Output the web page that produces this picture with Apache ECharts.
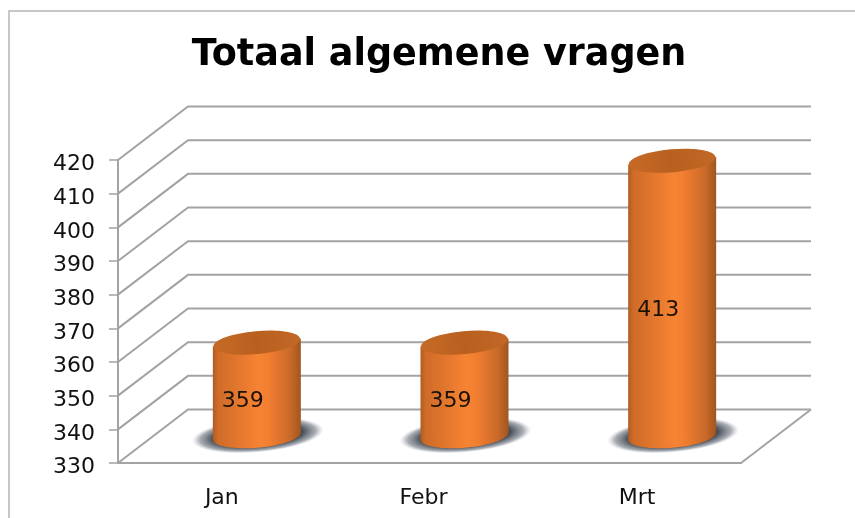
<!DOCTYPE html>
<html><head><meta charset="utf-8">
<style>html,body{margin:0;padding:0;background:#fff}#c{width:855px;height:518px}</style>
<script src="https://cdn.jsdelivr.net/npm/echarts@6/dist/echarts.min.js"></script>
</head><body><div id="c"></div>
<script>
const titleText = 'Totaal algemene vragen';
const categories = ['Jan', 'Febr', 'Mrt'];
const values = [359, 359, 413];
const tickValues = [330, 340, 350, 360, 370, 380, 390, 400, 410, 420];

const FONT = '"DejaVu Sans", sans-serif';
const GRIDC = '#a3a3a3';
const DX = 70, DY = 53.5;
const TILT = 5 * Math.PI / 180;
const RX = 44, RY = 11.5, SLOPE = 3.8;

const bodyFill = () => new echarts.graphic.LinearGradient(0, 0, 1, 0, [
  {offset: 0, color: '#b05c20'}, {offset: 0.06, color: '#cf6c29'}, {offset: 0.25, color: '#df752c'},
  {offset: 0.52, color: '#f78334'}, {offset: 0.62, color: '#f37f31'},
  {offset: 0.88, color: '#c96929'}, {offset: 1, color: '#a0561f'}]);
const topFill = () => new echarts.graphic.LinearGradient(0, 0, 1, 0, [
  {offset: 0, color: '#c66a26'}, {offset: 0.5, color: '#b9601f'}, {offset: 1, color: '#c26826'}]);
const shadowFill = () => new echarts.graphic.RadialGradient(0.5, 0.5, 0.5, [
  {offset: 0, color: 'rgba(72,78,86,1)'}, {offset: 0.68, color: 'rgba(72,78,86,1)'},
  {offset: 0.88, color: 'rgba(110,116,128,0.6)'}, {offset: 1, color: 'rgba(160,165,180,0)'}]);

function renderGrid(params, api) {
  const v = api.value(0);
  const a = api.coord([0, v]);
  const s = params.coordSys;
  const y = a[1];
  const kids = [{type: 'polyline', shape: {points: [[s.x, y], [s.x + DX, y - DY], [s.x + s.width + DX, y - DY]]},
    style: {fill: 'none', stroke: GRIDC, lineWidth: 2}}];
  if (v === tickValues[0]) kids.push({type: 'line',
    shape: {x1: s.x + s.width, y1: y, x2: s.x + s.width + DX, y2: y - DY},
    style: {stroke: GRIDC, lineWidth: 2}});
  return {type: 'group', children: kids};
}

function renderCyl(params, api) {
  const i = api.value(0);
  const t = api.coord([i, api.value(1)]);
  const b = api.coord([i, tickValues[0]]);
  const cx = t[0] + DX / 2;
  const by = b[1] - DY / 2;
  const ty = t[1] - DY / 2 + 4;
  return {type: 'group', children: [
    {type: 'circle', shape: {cx: 0, cy: 0, r: 66}, x: cx + 1, y: by - 1, scaleY: 0.26, rotation: TILT,
      style: {fill: shadowFill()}},
    {type: 'ellipse', shape: {cx: 0, cy: 0, rx: RX, ry: RY}, x: cx, y: by, rotation: TILT, style: {fill: bodyFill()}},
    {type: 'polygon', shape: {points: [[cx - RX, ty + SLOPE], [cx + RX, ty - SLOPE], [cx + RX, by - SLOPE], [cx - RX, by + SLOPE]]},
      style: {fill: bodyFill()}},
    {type: 'ellipse', shape: {cx: 0, cy: 0, rx: RX - 0.5, ry: RY}, x: cx, y: ty, rotation: TILT, style: {fill: topFill()}},
    {type: 'text', x: cx - 14, y: (ty + by) / 2 + 12,
      style: {text: String(api.value(1)), fill: '#1a1206', font: '22px ' + FONT, textAlign: 'center', textVerticalAlign: 'middle'}}
  ]};
}

const chart = echarts.init(document.getElementById('c'), null, {renderer: 'canvas'});
chart.setOption({
  animation: false,
  backgroundColor: '#fff',
  title: {text: titleText, left: 434, top: 32, textAlign: 'center',
    textStyle: {fontFamily: FONT, fontWeight: 'bold', fontSize: 36.5, color: '#000'}},
  grid: {left: 118, right: 114, top: 160, bottom: 55},
  xAxis: {type: 'category', data: categories,
    axisLine: {lineStyle: {color: GRIDC, width: 2}},
    axisTick: {length: 7, lineStyle: {color: GRIDC, width: 1.5}},
    axisLabel: {color: '#111', fontFamily: FONT, fontSize: 22, margin: 24,
      formatter: (v, i) => i === 1 ? '{s|' + v + '}' : v,
      rich: {s: {fontFamily: FONT, fontSize: 22, color: '#111', padding: [0, 12, 0, 0]}}}},
  yAxis: {type: 'value', min: 330, max: 420, interval: 10,
    axisLine: {show: true, lineStyle: {color: GRIDC, width: 2}},
    axisTick: {show: true, length: 9, lineStyle: {color: GRIDC, width: 1.5}},
    splitLine: {show: false},
    axisLabel: {color: '#111', fontFamily: FONT, fontSize: 22, margin: 23,
      formatter: v => '{n|' + v + '}',
      rich: {n: {fontFamily: FONT, fontSize: 22, color: '#111', padding: [9, 0, 0, 0]}}}},
  graphic: [{type: 'polyline', silent: true, shape: {points: [[9, 518], [9, 11], [855, 11]]},
    style: {fill: 'none', stroke: '#b5b5b5', lineWidth: 1.5}}],
  series: [
    {type: 'custom', renderItem: renderGrid, data: tickValues.map(v => [v]), encode: {y: 0}, z: 1, clip: false, silent: true},
    {type: 'custom', renderItem: renderCyl, data: values.map((v, i) => [i, v]), encode: {x: 0, y: 1}, z: 3, clip: false, silent: true}
  ]
});
</script></body></html>
